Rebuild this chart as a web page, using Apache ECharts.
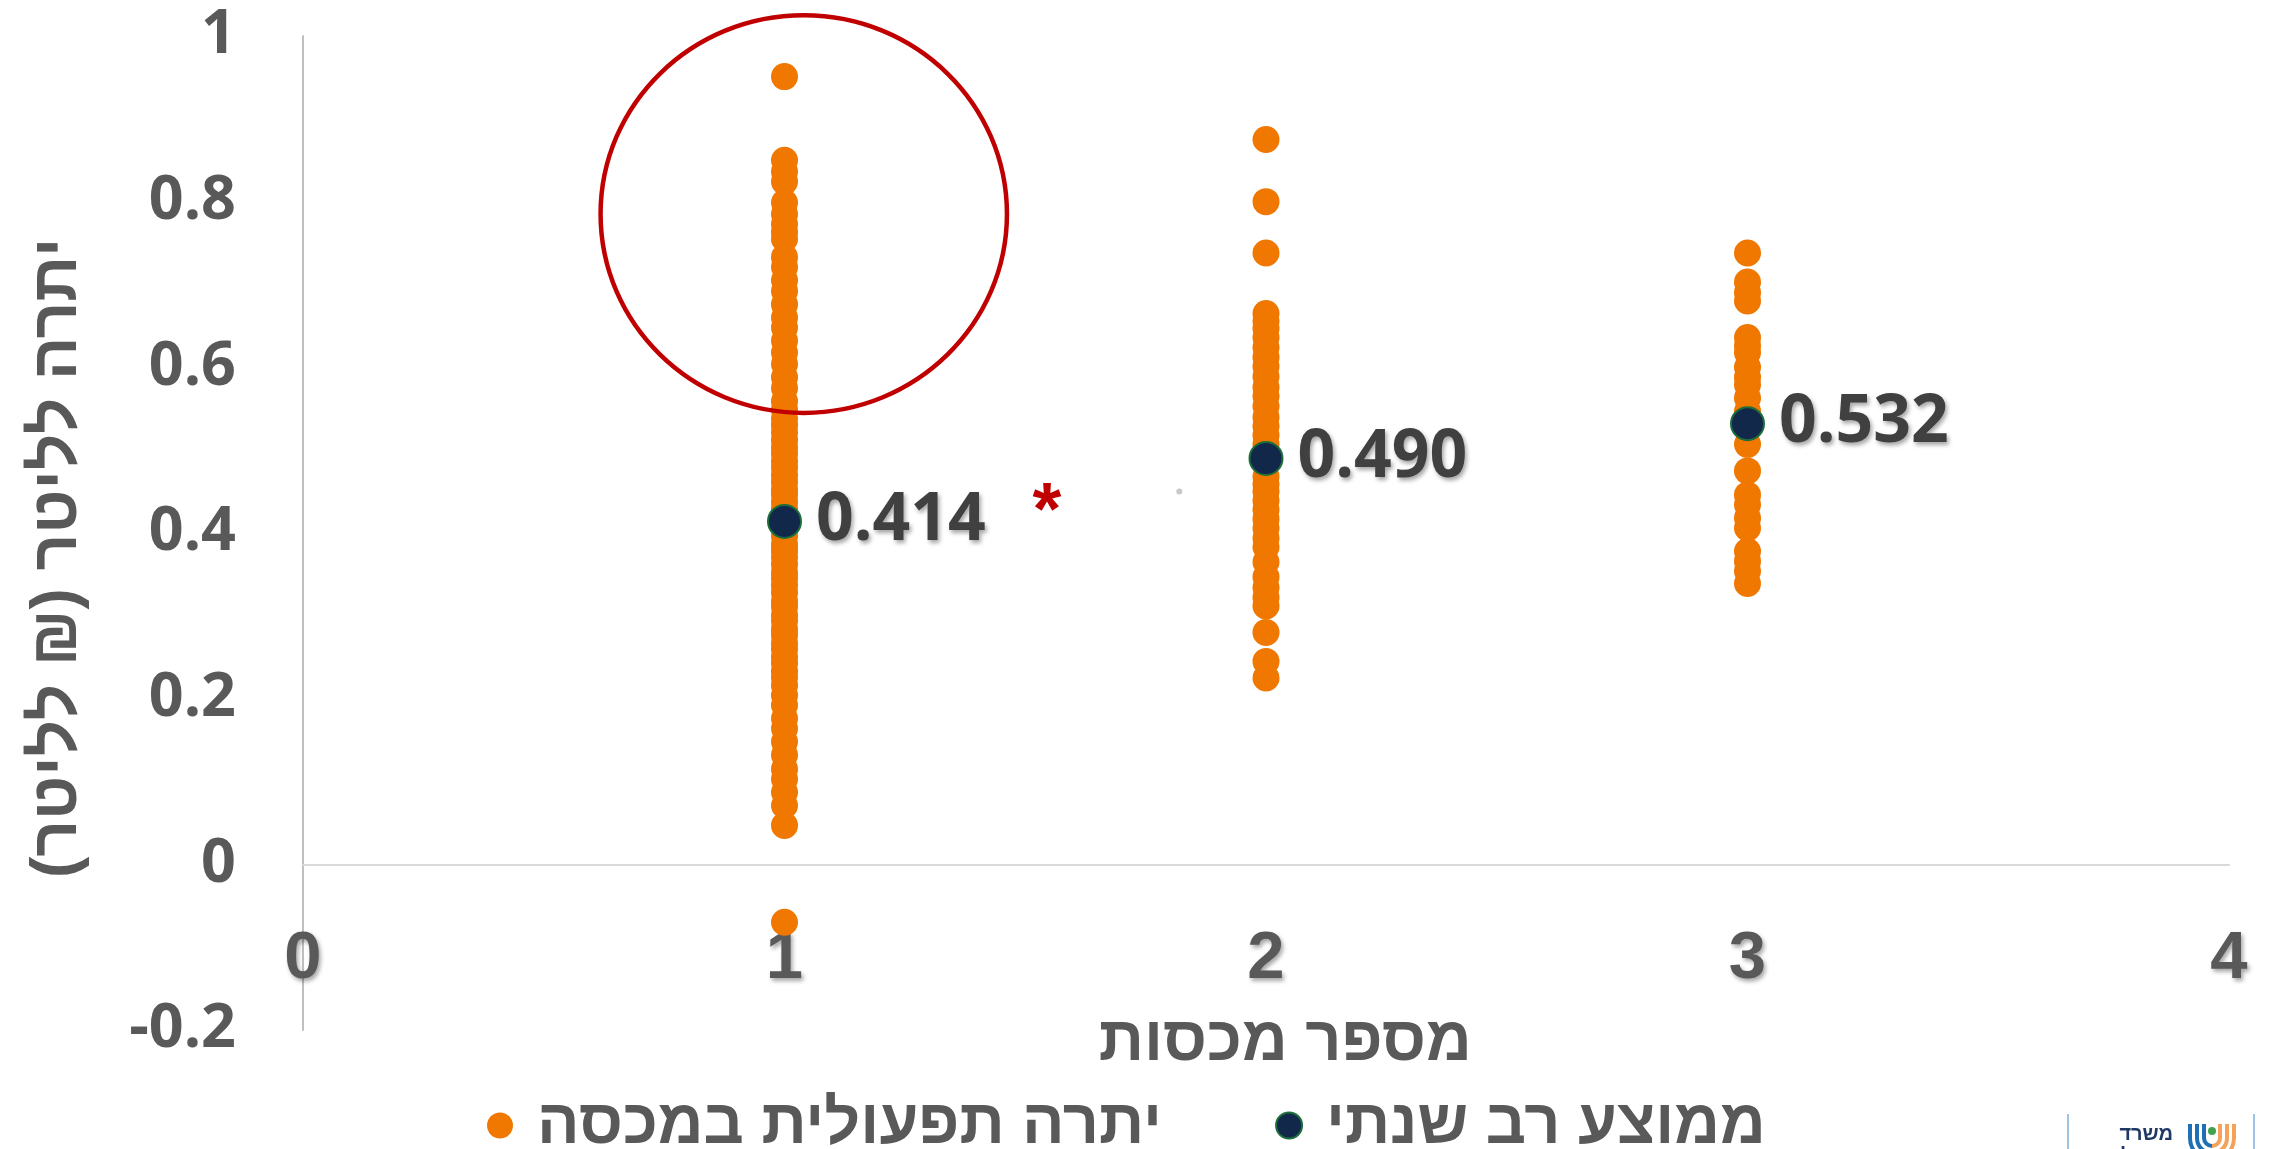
<!DOCTYPE html>
<html><head><meta charset="utf-8">
<script src="https://cdn.jsdelivr.net/npm/echarts@6/dist/echarts.min.js"></script>
<style>html,body{margin:0;padding:0;background:#fff;overflow:hidden}#c{width:2274px;height:1149px}</style>
</head><body><div id="c"></div>
<script>
// ---- data ----
const seriesNames = ['יתרה תפעולית במכסה', 'ממוצע רב שנתי'];
const quotaCounts = [1, 2, 3];
const balance1 = [0.951, 0.850, 0.836, 0.824, 0.799, 0.785, 0.773, 0.763, 0.755, 0.733, 0.721, 0.705, 0.692, 0.676, 0.660, 0.648, 0.632, 0.618, 0.604, 0.588, 0.575, 0.559, 0.549, 0.538, 0.530, 0.521, 0.512, 0.503, 0.496, 0.487, 0.479, 0.470, 0.462, 0.453, 0.447, 0.438, 0.430, 0.421, 0.411, 0.404, 0.396, 0.386, 0.379, 0.371, 0.362, 0.352, 0.345, 0.337, 0.328, 0.318, 0.311, 0.301, 0.294, 0.284, 0.277, 0.267, 0.260, 0.250, 0.243, 0.233, 0.226, 0.216, 0.204, 0.192, 0.176, 0.164, 0.148, 0.132, 0.115, 0.103, 0.087, 0.071, 0.047, -0.070];
const balance2 = [0.875, 0.800, 0.738, 0.665, 0.656, 0.647, 0.636, 0.624, 0.612, 0.601, 0.589, 0.576, 0.565, 0.553, 0.540, 0.529, 0.518, 0.507, 0.496, 0.485, 0.468, 0.459, 0.450, 0.439, 0.428, 0.417, 0.406, 0.394, 0.383, 0.365, 0.347, 0.334, 0.322, 0.312, 0.280, 0.245, 0.225];
const balance3 = [0.738, 0.703, 0.690, 0.680, 0.636, 0.626, 0.618, 0.600, 0.588, 0.579, 0.563, 0.547, 0.532, 0.507, 0.475, 0.446, 0.434, 0.418, 0.406, 0.378, 0.366, 0.354, 0.339];
const averages = [0.414, 0.490, 0.532];
const xAxisRange = [0, 4, 1];      // min, max, interval
const yAxisRange = [-0.2, 1, 0.2]; // min, max, interval
const xAxisTitle = 'מספר מכסות';
const yAxisTitle = 'יתרה לליטר (₪ לליטר)\u200F';
const logoLines = ['משרד', 'החקלאות'];

// ---- build ----
const balanceGroups = [balance1, balance2, balance3];
const pointData = [];
balanceGroups.forEach((g, i) => g.forEach(v => pointData.push([quotaCounts[i], v])));
const avgData = averages.map((v, i) => [quotaCounts[i], v]);

const GRAY = '#595959';
const HEB = "'Liberation Sans', 'DejaVu Sans', sans-serif";
const shadow = { textShadowColor: 'rgba(0,0,0,0.35)', textShadowBlur: 4, textShadowOffsetX: 2, textShadowOffsetY: 3 };

const chart = echarts.init(document.getElementById('c'), null, { renderer: 'canvas' });
chart.setOption({
  animation: false,
  backgroundColor: '#fff',
  grid: { left: 303, right: 45, top: 36, bottom: 119, containLabel: false, outerBoundsMode: 'none' },
  xAxis: {
    type: 'value', min: xAxisRange[0], max: xAxisRange[1], interval: xAxisRange[2],
    axisLine: { show: true, onZero: true, lineStyle: { color: '#D9D9D9', width: 2 } },
    axisTick: { show: false }, splitLine: { show: false },
    axisLabel: Object.assign({ margin: -104, fontSize: 67, fontWeight: 'bold', color: GRAY,
      fontFamily: "'Liberation Sans Narrow', 'Liberation Sans', sans-serif" }, shadow)
  },
  yAxis: {
    type: 'value', min: yAxisRange[0], max: yAxisRange[1], interval: yAxisRange[2],
    axisLine: { show: true, onZero: false, lineStyle: { color: '#BFBFBF', width: 2 } },
    axisTick: { show: false }, splitLine: { show: false },
    axisLabel: { margin: 67, fontSize: 61, fontWeight: 'bold', color: GRAY, fontFamily: "'Open Sans', sans-serif" }
  },
  legend: {
    data: seriesNames, left: 487, top: 1094, icon: 'circle', itemWidth: 26, itemHeight: 26, itemGap: 113,
    padding: 0,
    textStyle: { fontSize: 63, fontWeight: 'bold', color: GRAY, fontFamily: HEB, padding: [0, 0, 0, 19] }
  },
  series: [
    { name: seriesNames[0], type: 'scatter', data: pointData, symbolSize: 27, z: 2,
      itemStyle: { color: '#F07800', opacity: 1 } },
    { name: seriesNames[1], type: 'scatter', data: avgData, symbolSize: 33, z: 3,
      itemStyle: { color: '#11284A', borderColor: '#1E6E3C', borderWidth: 2, opacity: 1 },
      label: Object.assign({ show: true, position: 'right', distance: 14, fontSize: 66, fontWeight: 'bold',
        color: '#404040', fontFamily: "'Open Sans', sans-serif",
        formatter: p => p.value[1].toFixed(3) }, shadow) }
  ]
});

// annotations positioned from data coordinates
const px = (x, y) => chart.convertToPixel({ gridIndex: 0 }, [x, y]);
const circC = px(1.04, 0.785);
const circEdgeX = px(1.04 + 0.422, 0.785);
const circEdgeY = px(1.04, 0.785 + 0.24);
const star = px(1.545, 0.423);
const dot = px(1.82, 0.45);
const xTitle = px(2.04, -0.215);
const yTitleC = px(0, 0.37);

const logo = [];
logo.push({ type: 'line', shape: { x1: 2068, y1: 1114, x2: 2068, y2: 1149 }, style: { stroke: '#9DC3E6', lineWidth: 2 } });
logo.push({ type: 'line', shape: { x1: 2254, y1: 1114, x2: 2254, y2: 1149 }, style: { stroke: '#9DC3E6', lineWidth: 2 } });
logo.push({ type: 'text', x: 2173, y: 1134, style: { text: logoLines[0], fontSize: 20, fontWeight: 'bold', fill: '#1F3864', fontFamily: HEB, align: 'right', verticalAlign: 'middle', textAlign: 'right', textVerticalAlign: 'middle' } });
logo.push({ type: 'text', x: 2173, y: 1156, style: { text: logoLines[1], fontSize: 20, fontWeight: 'bold', fill: '#1F3864', fontFamily: HEB, align: 'right', verticalAlign: 'middle', textAlign: 'right', textVerticalAlign: 'middle' } });
[8, 15, 22].forEach(r => {
  logo.push({ type: 'arc', shape: { cx: 2212, cy: 1138, r: r, startAngle: Math.PI / 2, endAngle: Math.PI }, style: { stroke: '#1F6FB5', lineWidth: 4, fill: null } });
  logo.push({ type: 'line', shape: { x1: 2212 - r, y1: 1124, x2: 2212 - r, y2: 1138 }, style: { stroke: '#1F6FB5', lineWidth: 4 } });
  logo.push({ type: 'arc', shape: { cx: 2212, cy: 1138, r: r, startAngle: 0, endAngle: Math.PI / 2 }, style: { stroke: '#F4A259', lineWidth: 4, fill: null } });
  logo.push({ type: 'line', shape: { x1: 2212 + r, y1: 1124, x2: 2212 + r, y2: 1138 }, style: { stroke: '#F4A259', lineWidth: 4 } });
});
logo.push({ type: 'circle', shape: { cx: 2212, cy: 1131, r: 4 }, style: { fill: '#3FA34D' } });

chart.setOption({
  graphic: [
    { type: 'ellipse', shape: { cx: circC[0], cy: circC[1], rx: circEdgeX[0] - circC[0], ry: circC[1] - circEdgeY[1] }, style: { fill: null, stroke: '#C00000', lineWidth: 4.5 }, z: 10 },
    { type: 'text', x: star[0], y: star[1], style: { text: '*', fontSize: 74, fontWeight: 'bold', fill: '#C00000', fontFamily: "'Liberation Sans', sans-serif", align: 'center', verticalAlign: 'middle', textAlign: 'center', textVerticalAlign: 'middle' }, z: 10 },
    { type: 'circle', shape: { cx: dot[0], cy: dot[1], r: 3 }, style: { fill: '#C8C8C8' }, z: 10 },
    { type: 'text', x: xTitle[0], y: xTitle[1], style: { text: xAxisTitle, fontSize: 63, fontWeight: 'bold', fill: GRAY, fontFamily: HEB, align: 'center', verticalAlign: 'middle', textAlign: 'center', textVerticalAlign: 'middle' }, z: 10 },
    { type: 'text', x: 58, y: yTitleC[1], rotation: Math.PI / 2, style: { text: yAxisTitle, fontSize: 64, fontWeight: 'bold', fill: GRAY, fontFamily: HEB, align: 'center', verticalAlign: 'middle', textAlign: 'center', textVerticalAlign: 'middle' }, z: 10 }
  ].concat(logo)
});
</script>
</body></html>
